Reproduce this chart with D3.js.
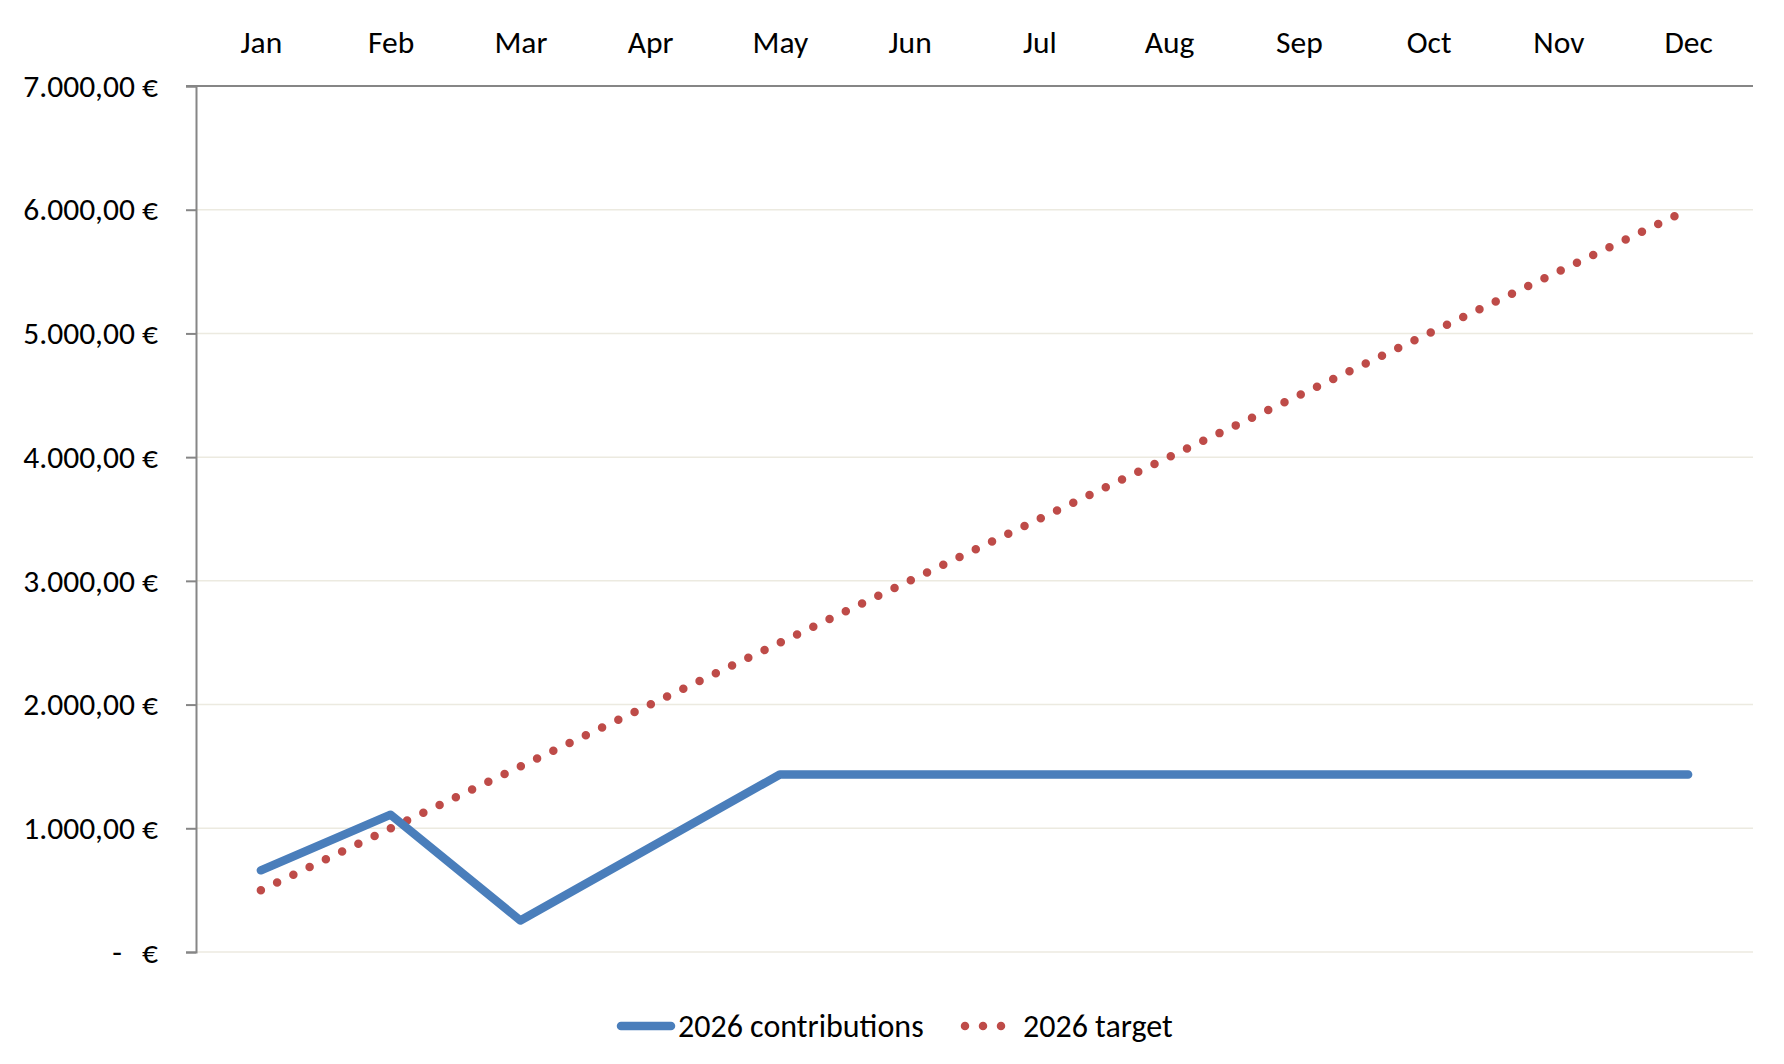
<!DOCTYPE html>
<html>
<head>
<meta charset="utf-8">
<script src="https://cdn.jsdelivr.net/npm/d3@7"></script>
<style>
  html, body { margin: 0; padding: 0; background: #fff; }
  svg { display: block; font-family: Calibri, Carlito, Lato, sans-serif; }
</style>
</head>
<body>
<svg id="chart" width="1784" height="1064"></svg>
<script>
// data
const months = ['Jan','Feb','Mar','Apr','May','Jun','Jul','Aug','Sep','Oct','Nov','Dec'];
const contributions = [660, 1110, 255, 845, 1435, 1435, 1435, 1435, 1435, 1435, 1435, 1435];
const target = [500, 1000, 1500, 2000, 2500, 3000, 3500, 4000, 4500, 5000, 5500, 6000];
const yTicks = [0, 1000, 2000, 3000, 4000, 5000, 6000, 7000];
const seriesNames = ['2026 contributions', '2026 target'];

const blue = '#4a7ebb', red = '#be4b48';
const axisCol = '#868686', gridCol = '#ecEAE0';

const m = { left: 196, right: 1753, top: 86, bottom: 952 };
const svg = d3.select('#chart');

const x = d3.scalePoint().domain(months).range([m.left, m.right]).padding(0.5);
const y = d3.scaleLinear().domain([0, 7000]).range([m.bottom, m.top]);

const loc = d3.formatLocale({ decimal: ',', thousands: '.', grouping: [3], currency: ['', ' €'] });
const fmt = loc.format(',.2f');

// gridlines
svg.append('g').selectAll('line')
  .data(yTicks.filter(d => d < 7000)).enter().append('line')
  .attr('x1', m.left).attr('x2', m.right)
  .attr('y1', d => y(d)).attr('y2', d => y(d))
  .attr('stroke', gridCol).attr('stroke-width', 1.5);

// y axis
const yAxis = svg.append('g').attr('transform', `translate(${m.left},0)`)
  .call(d3.axisLeft(y).tickValues(yTicks).tickSize(10).tickFormat(''));
yAxis.select('.domain').attr('stroke', axisCol).attr('stroke-width', 2);
yAxis.selectAll('.tick line').attr('stroke', axisCol).attr('stroke-width', 2);

const labX = 158;
const yl = svg.append('g').attr('font-size', 31.5).attr('fill', '#000');
yTicks.forEach(v => {
  if (v === 0) {
    yl.append('text').attr('x', labX).attr('y', y(v)).attr('dy', '0.34em')
      .attr('text-anchor', 'end').text('€');
    yl.append('text').attr('x', labX - 36).attr('y', y(v)).attr('dy', '0.34em')
      .attr('text-anchor', 'end').text('-');
  } else {
    yl.append('text').attr('x', labX).attr('y', y(v)).attr('dy', '0.34em')
      .attr('text-anchor', 'end').text(fmt(v) + ' €');
  }
});

// x axis sits on top
const xAxis = svg.append('g').attr('transform', `translate(0,${m.top})`)
  .call(d3.axisTop(x).tickSize(0).tickPadding(0));
xAxis.select('.domain').attr('d', `M${m.left - 10},0H${m.right}`)
  .attr('stroke', axisCol).attr('stroke-width', 2);
xAxis.selectAll('.tick text').attr('y', -33).attr('dy', 0)
  .attr('font-size', 31.5).attr('fill', '#000')
  .style('font-family', 'Calibri, Carlito, Lato, sans-serif');

// lines
const line = d3.line().x((d, i) => x(months[i])).y(d => y(d));

svg.append('path').datum(target)
  .attr('d', line).attr('fill', 'none')
  .attr('stroke', red).attr('stroke-width', 8.5)
  .attr('stroke-linecap', 'round').attr('stroke-dasharray', '0 18');

svg.append('path').datum(contributions)
  .attr('d', line).attr('fill', 'none')
  .attr('stroke', blue).attr('stroke-width', 8.5)
  .attr('stroke-linecap', 'round').attr('stroke-linejoin', 'round');

// legend
const lg = svg.append('g').attr('font-size', 32).attr('fill', '#000');
const ly = 1026;
lg.append('line').attr('x1', 621).attr('x2', 671).attr('y1', ly).attr('y2', ly)
  .attr('stroke', blue).attr('stroke-width', 8.5).attr('stroke-linecap', 'round');
lg.append('text').attr('x', 678).attr('y', ly).attr('dy', '0.33em').text(seriesNames[0]);
lg.append('line').attr('x1', 965).attr('x2', 1002).attr('y1', ly).attr('y2', ly)
  .attr('stroke', red).attr('stroke-width', 8.5)
  .attr('stroke-linecap', 'round').attr('stroke-dasharray', '0 18');
lg.append('text').attr('x', 1023).attr('y', ly).attr('dy', '0.33em').text(seriesNames[1]);
</script>
</body>
</html>
